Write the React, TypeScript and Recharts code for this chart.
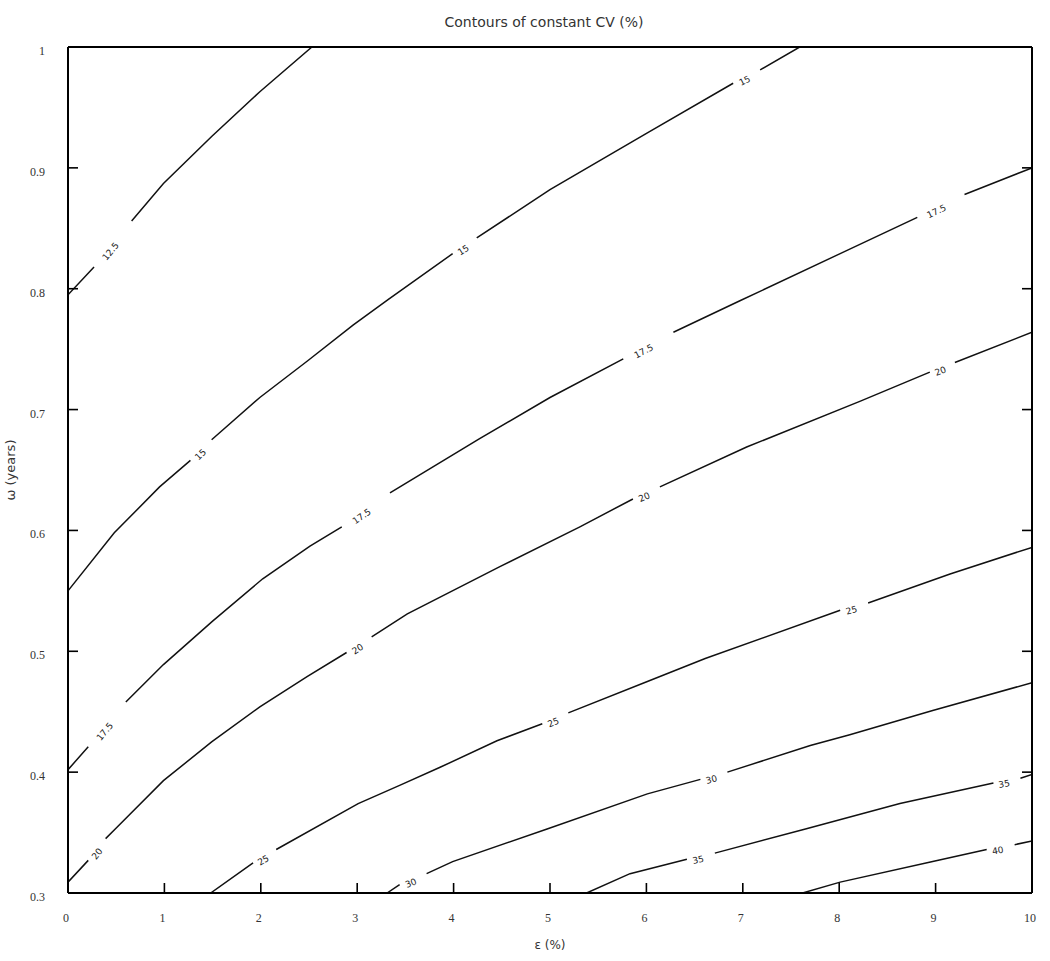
import React from "react";
import { LineChart, Line, XAxis, YAxis, ReferenceDot } from "recharts";

type Pt = [number, number];

// axis ticks
const epsTicks = [0, 1, 2, 3, 4, 5, 6, 7, 8, 9, 10];
const omegaTicks = [0.3, 0.4, 0.5, 0.6, 0.7, 0.8, 0.9, 1];

// contour levels (CV %)
const levels = ["12.5", "15", "17.5", "20", "25", "30", "35", "40"];

// contour traces, [eps %, omega years]; a new segment starts after each label gap
const cv12_5: Pt[][] = [
  [[0, 0.795], [0.27, 0.818]],
  [[0.66, 0.856], [0.99, 0.887], [1.49, 0.926], [1.99, 0.963], [2.53, 1.0]],
];
const cv15: Pt[][] = [
  [[0, 0.55], [0.48, 0.598], [0.95, 0.636], [1.27, 0.658]],
  [[1.49, 0.675], [1.99, 0.71], [2.48, 0.74], [2.96, 0.77], [3.32, 0.791], [3.99, 0.829]],
  [[4.24, 0.842], [5.0, 0.882], [6.01, 0.929], [6.9, 0.97]],
  [[7.18, 0.981], [7.59, 1.0]],
];
const cv17_5: Pt[][] = [
  [[0, 0.402], [0.21, 0.421]],
  [[0.6, 0.458], [0.99, 0.489], [1.5, 0.525], [2.02, 0.56], [2.51, 0.587], [2.84, 0.603]],
  [[3.34, 0.631], [4.27, 0.676], [5.0, 0.71], [5.76, 0.742]],
  [[6.28, 0.764], [6.97, 0.79], [8.01, 0.829], [8.81, 0.859]],
  [[9.3, 0.878], [10, 0.9]],
];
const cv20: Pt[][] = [
  [[0, 0.309], [0.21, 0.327]],
  [[0.39, 0.345], [0.49, 0.353], [0.99, 0.393], [1.49, 0.425], [1.99, 0.454], [2.48, 0.479], [2.89, 0.499]],
  [[3.15, 0.512], [3.52, 0.531], [4.48, 0.57], [5.31, 0.603], [5.86, 0.626]],
  [[6.14, 0.636], [7.04, 0.669], [8.22, 0.707], [8.94, 0.731]],
  [[9.2, 0.739], [10, 0.764]],
];
const cv25: Pt[][] = [
  [[1.48, 0.3], [1.92, 0.325]],
  [[2.16, 0.336], [3.01, 0.374], [3.44, 0.389], [3.86, 0.404], [4.45, 0.426], [4.92, 0.44]],
  [[5.19, 0.449], [6.01, 0.475], [6.61, 0.494], [8.01, 0.534]],
  [[8.3, 0.54], [9.15, 0.564], [10, 0.586]],
];
const cv30: Pt[][] = [
  [[3.31, 0.3], [3.44, 0.307]],
  [[3.72, 0.316], [3.99, 0.326], [4.97, 0.353], [6.01, 0.382], [6.56, 0.394]],
  [[6.84, 0.4], [7.7, 0.422], [8.11, 0.431], [8.97, 0.451], [10, 0.474]],
];
const cv35: Pt[][] = [
  [[5.38, 0.3], [5.83, 0.316], [6.42, 0.328]],
  [[6.71, 0.333], [7.65, 0.353], [8.63, 0.374], [9.6, 0.391]],
  [[9.88, 0.395], [10, 0.398]],
];
const cv40: Pt[][] = [
  [[7.62, 0.3], [8.01, 0.309], [8.97, 0.326], [9.53, 0.336]],
  [[9.82, 0.34], [10, 0.343]],
];

const contourSegs = [cv12_5, cv15, cv17_5, cv20, cv25, cv30, cv35, cv40];

const WIDTH = 1050;
const HEIGHT = 955;
const MARGIN = { top: 46, right: 17, bottom: 0, left: 0 };
const Y_AXIS_W = 68;
const X_AXIS_H = 62;
const PLOT_W = WIDTH - MARGIN.left - MARGIN.right - Y_AXIS_W - 1;
const PLOT_H = HEIGHT - MARGIN.top - MARGIN.bottom - X_AXIS_H - 1;
const PX_X = PLOT_W / (epsTicks[epsTicks.length - 1] - epsTicks[0]);
const PX_Y = PLOT_H / (omegaTicks[omegaTicks.length - 1] - omegaTicks[0]);

const INK = "#111";
const TICK_FONT = "'Liberation Serif', serif";
const TEXT_FONT = "'DejaVu Sans', sans-serif";

function lineData(segs: Pt[][]) {
  const out: { x: number; y: number | null }[] = [];
  segs.forEach((seg, i) => {
    if (i > 0) out.push({ x: seg[0][0], y: null });
    seg.forEach(([x, y]) => out.push({ x, y }));
  });
  return out;
}

// one label per gap, laid along the line direction
function gapLabels(segs: Pt[][], level: string) {
  const out: { x: number; y: number; angle: number; text: string }[] = [];
  for (let i = 1; i < segs.length; i++) {
    const a = segs[i - 1][segs[i - 1].length - 1];
    const b = segs[i][0];
    const dx = (b[0] - a[0]) * PX_X;
    const dy = -(b[1] - a[1]) * PX_Y;
    out.push({
      x: a[0] + (b[0] - a[0]) * 0.38,
      y: a[1] + (b[1] - a[1]) * 0.38,
      angle: (Math.atan2(dy, dx) * 180) / Math.PI,
      text: level,
    });
  }
  return out;
}

function YTick(props: any) {
  const { x, y, payload } = props;
  return (
    <text x={x} y={y + 4} textAnchor="end" dominantBaseline="central" fontFamily={TICK_FONT} fontSize={12} fill="#333">
      {payload.value}
    </text>
  );
}

function XTick(props: any) {
  const { x, y, payload } = props;
  return (
    <text x={x - 2} y={y} textAnchor="middle" dominantBaseline="central" fontFamily={TICK_FONT} fontSize={12} fill="#333">
      {payload.value}
    </text>
  );
}

const plotLeft = MARGIN.left + Y_AXIS_W;
const plotTop = MARGIN.top + 1;
const plotBottom = plotTop + PLOT_H;

export default function App() {
  const labels = contourSegs.flatMap((segs, i) => gapLabels(segs, levels[i]));
  return (
    <div style={{ position: "absolute", left: 0, top: 0, width: WIDTH, height: HEIGHT, background: "#fff" }}>
      <LineChart width={WIDTH} height={HEIGHT} margin={MARGIN}>
        <XAxis
          dataKey="x"
          type="number"
          domain={[0, 10]}
          allowDataOverflow
          ticks={epsTicks}
          height={X_AXIS_H}
          tickSize={-10}
          tickMargin={35}
          tick={<XTick />}
          axisLine={{ stroke: "#000", strokeWidth: 2 }}
          tickLine={{ stroke: "#000", strokeWidth: 1.6 }}
          label={{
            content: () => (
              <text x={plotLeft + PLOT_W / 2} y={plotBottom + 52} textAnchor="middle" dominantBaseline="central" fontFamily={TEXT_FONT} fontSize={12} fill="#333">
                ε (%)
              </text>
            ),
          }}
        />
        <XAxis
          xAxisId="top"
          orientation="top"
          type="number"
          domain={[0, 10]}
          allowDataOverflow
          ticks={epsTicks}
          height={1}
          tickSize={-10}
          tickFormatter={() => ""}
          axisLine={{ stroke: "#000", strokeWidth: 2 }}
          tickLine={{ stroke: "#000", strokeWidth: 1.6 }}
          label={{
            content: () => (
              <text x={plotLeft + PLOT_W / 2 - 6} y={22} textAnchor="middle" dominantBaseline="central" fontFamily={TEXT_FONT} fontSize={14} fill="#333">
                Contours of constant CV (%)
              </text>
            ),
          }}
        />
        <YAxis
          type="number"
          domain={[0.3, 1]}
          allowDataOverflow
          ticks={omegaTicks}
          width={Y_AXIS_W}
          tickSize={-10}
          tickMargin={33}
          tick={<YTick />}
          axisLine={{ stroke: "#000", strokeWidth: 2 }}
          tickLine={{ stroke: "#000", strokeWidth: 1.6 }}
          label={{
            content: () => {
              const cx = 10;
              const cy = plotTop + PLOT_H / 2;
              return (
                <text x={cx} y={cy} transform={`rotate(-90 ${cx} ${cy})`} textAnchor="middle" dominantBaseline="central" fontFamily={TEXT_FONT} fontSize={13} fill="#333">
                  ω (years)
                </text>
              );
            },
          }}
        />
        <YAxis
          yAxisId="right"
          orientation="right"
          type="number"
          domain={[0.3, 1]}
          allowDataOverflow
          ticks={omegaTicks}
          width={1}
          tickSize={-10}
          tickFormatter={() => ""}
          axisLine={{ stroke: "#000", strokeWidth: 2 }}
          tickLine={{ stroke: "#000", strokeWidth: 1.6 }}
        />
        {contourSegs.map((segs, i) => (
          <Line
            key={levels[i]}
            data={lineData(segs)}
            dataKey="y"
            type="linear"
            stroke={INK}
            strokeWidth={1.5}
            dot={false}
            activeDot={false}
            connectNulls={false}
            isAnimationActive={false}
          />
        ))}
        {labels.map((l, i) => (
          <ReferenceDot
            key={`lab-${i}`}
            x={l.x}
            y={l.y}
            r={0}
            ifOverflow="extendDomain"
            shape={(p: any) => (
              <text
                x={p.cx}
                y={p.cy}
                dy={3}
                transform={`rotate(${l.angle} ${p.cx} ${p.cy})`}
                textAnchor="middle"
                dominantBaseline="central"
                fontFamily={TEXT_FONT}
                fontSize={9}
                fill="#222"
              >
                {l.text}
              </text>
            )}
          />
        ))}
      </LineChart>
    </div>
  );
}
